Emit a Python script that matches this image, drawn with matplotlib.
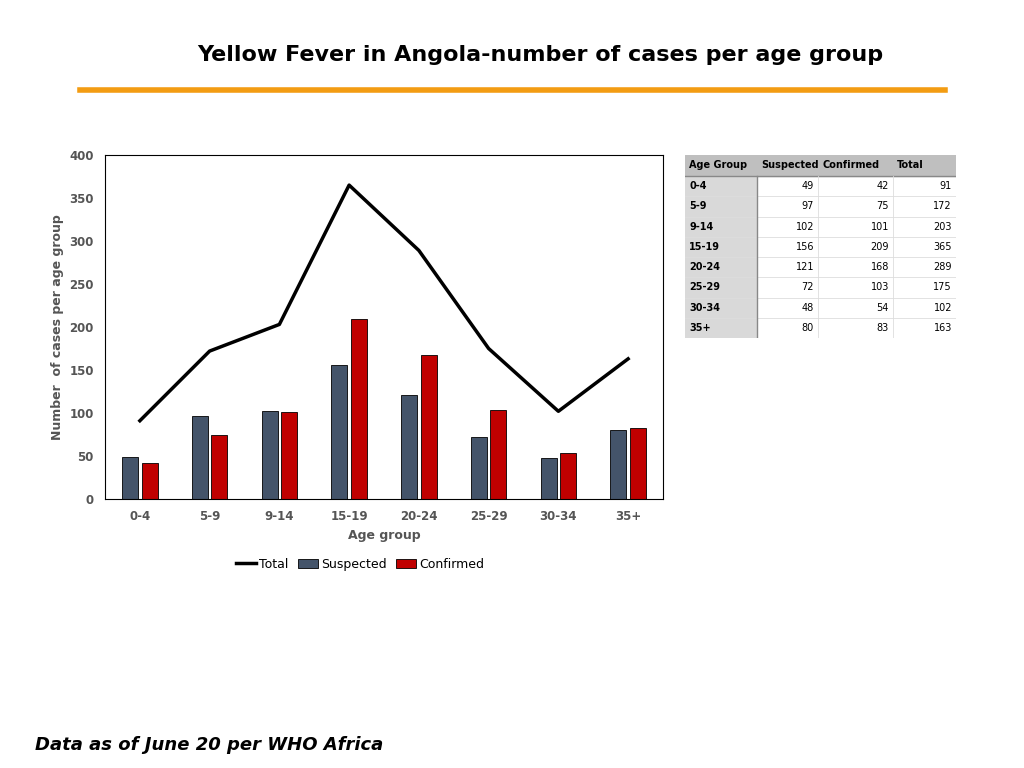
import matplotlib
matplotlib.use("Agg")
import matplotlib.pyplot as plt
import numpy as np
from matplotlib.patches import Rectangle

groups = ["0-4", "5-9", "9-14", "15-19", "20-24", "25-29", "30-34", "35+"]
suspected = [49, 97, 102, 156, 121, 72, 48, 80]
confirmed = [42, 75, 101, 209, 168, 103, 54, 83]
total = [91, 172, 203, 365, 289, 175, 102, 163]

W, H = 1024, 768
fig = plt.figure(figsize=(10.24, 7.68), dpi=100)

def fx(px): return px / W
def fy(py): return 1 - py / H

fig.text(fx(540), fy(55), "Yellow Fever in Angola-number of cases per age group",
         ha="center", va="center", fontsize=16, fontweight="bold")
fig.add_artist(plt.Line2D([fx(80), fx(945)], [fy(90), fy(90)], color="#F39C12", lw=4))
fig.text(fx(35), fy(745), "Data as of June 20 per WHO Africa", ha="left", va="center",
         fontsize=13, fontweight="bold", fontstyle="italic")

ax = fig.add_axes([fx(105), fy(499), fx(663 - 105), (499 - 155) / H])
x = np.arange(len(groups))
w = 0.23
ax.bar(x - 0.14, suspected, w, color="#44546A", edgecolor="black", lw=0.6, label="Suspected")
ax.bar(x + 0.14, confirmed, w, color="#C00000", edgecolor="black", lw=0.6, label="Confirmed")
ax.plot(x, total, color="black", lw=2.5, label="Total")
ax.set_xlim(-0.5, len(groups) - 0.5)
ax.set_ylim(0, 400)
ax.set_yticks(range(0, 401, 50))
ax.set_xticks(x)
ax.set_xticklabels(groups)
for lab in ax.get_xticklabels() + ax.get_yticklabels():
    lab.set_fontweight("bold"); lab.set_color("#555555"); lab.set_fontsize(8.5)
ax.tick_params(length=0, pad=8)
ax.set_xlabel("Age group", fontsize=9, fontweight="bold", color="#555555")
ax.set_ylabel("Number  of cases per age group", fontsize=9, fontweight="bold", color="#555555")
for s in ax.spines.values():
    s.set_color("black"); s.set_linewidth(0.8)
ax.legend(loc="center", bbox_to_anchor=(fx(360 - 105) / fx(663 - 105), -0.19), ncol=3,
          frameon=False, fontsize=9, handlelength=1.6, columnspacing=0.8, handletextpad=0.2)

# table
tx = fig.add_axes([fx(685), fy(338), fx(956 - 685), (338 - 155) / H])
tx.set_xlim(685, 956); tx.set_ylim(338, 155); tx.axis("off")
cols = [685, 757, 818, 893, 956]
top, hh, rh = 155, 21, 20.25
tx.add_patch(Rectangle((685, top), 271, hh, color="#BFBFBF"))
heads = ["Age Group", "Suspected", "Confirmed", "Total"]
for i, h in enumerate(heads):
    tx.text(cols[i] + 4, top + hh / 2, h, fontsize=7, fontweight="bold", va="center", ha="left")
for r in range(len(groups)):
    y0 = top + hh + r * rh
    tx.add_patch(Rectangle((685, y0), 72, rh, facecolor="#D9D9D9", edgecolor="none"))
    tx.plot([685, 956], [y0 + rh, y0 + rh], color="#DDDDDD", lw=0.6)
    tx.text(689, y0 + rh / 2, groups[r], fontsize=7, fontweight="bold", va="center")
    for j, v in enumerate([suspected[r], confirmed[r], total[r]]):
        tx.text(cols[j + 2] - 4, y0 + rh / 2, str(v), fontsize=7, va="center", ha="right")
tx.plot([757, 757], [top + hh, 338], color="#888888", lw=1)
tx.plot([685, 956], [top + hh, top + hh], color="#888888", lw=1)
for c in cols[2:]:
    tx.plot([c, c], [top + hh, 338], color="#DDDDDD", lw=0.6)

fig.savefig("out.png", dpi=100)
